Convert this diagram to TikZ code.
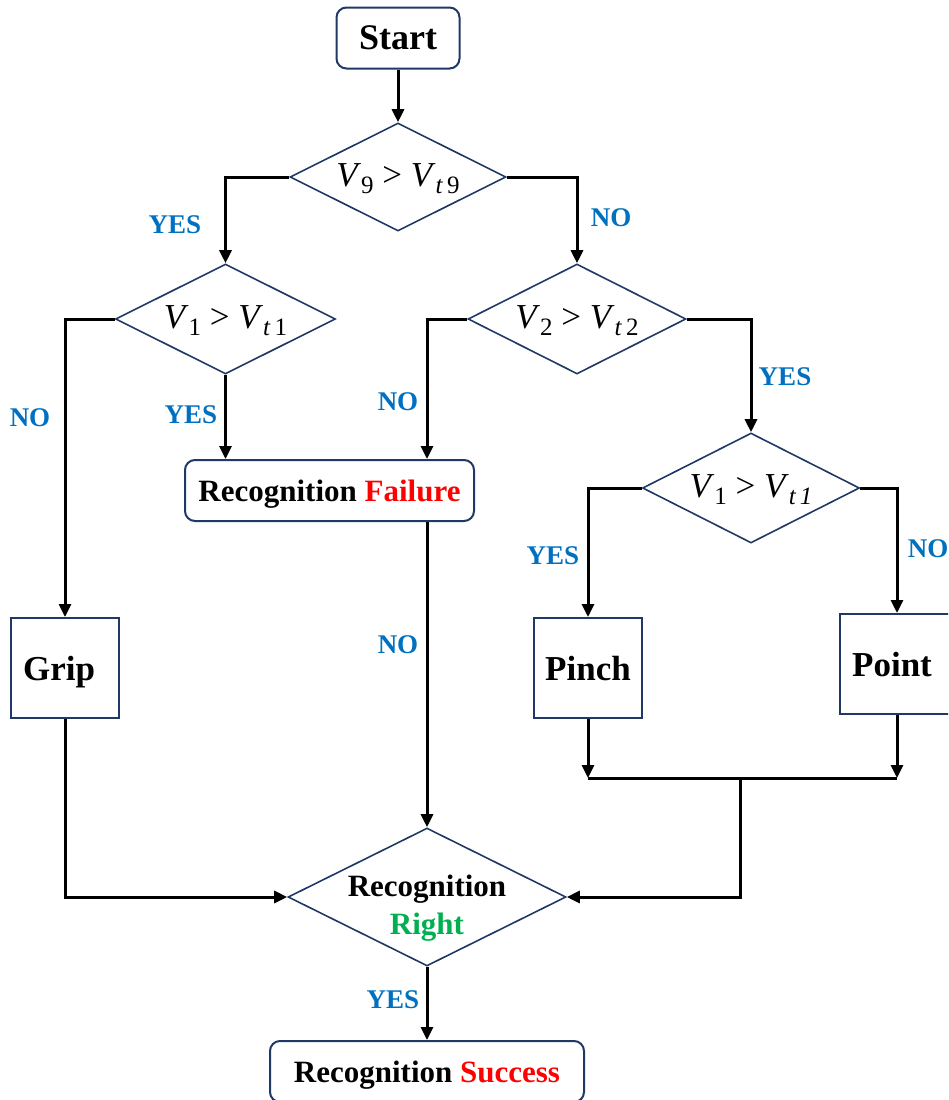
\documentclass[tikz,border=0pt]{standalone}
\usepackage{fontspec}
\setmainfont{Liberation Serif}
\usetikzlibrary{shapes.geometric,arrows.meta}
\definecolor{edge}{RGB}{31,56,100}
\definecolor{lblue}{RGB}{0,112,192}
\definecolor{okgreen}{RGB}{0,176,80}
\definecolor{bad}{RGB}{255,0,0}
\newcommand\fsz[2]{\fontsize{#1}{#2}\selectfont}
% italic V with a lowered upright index
\newcommand\Vs[1]{\textit{V}\raisebox{-7pt}{\fsz{25}{25}#1}}
\begin{document}
\begin{tikzpicture}[x=1pt,y=-1pt,
  conn/.style={line width=3pt,-{Triangle[length=13pt,width=12pt]}},
  plain/.style={line width=3pt},
  roundbox/.style={draw=edge,line width=2pt,rounded corners=10pt,
    minimum width=#1,minimum height=61pt,inner sep=0pt,font=\fsz{31}{37}\bfseries},
  handbox/.style={draw=edge,line width=2pt,minimum width=#1,minimum height=100pt,
    inner sep=0pt,font=\fsz{35}{40}\bfseries},
  decision/.style={diamond,draw=edge,line width=1.6pt,inner sep=0pt,aspect=2},
  cond/.style={font=\fsz{35}{40},inner sep=0pt},
  lbl/.style={text=lblue,font=\fsz{27}{30}\bfseries,inner sep=0pt}]
\useasboundingbox (0,0) rectangle (948,1100);
\clip (0,0) rectangle (948,1100);

% boxes
\node[roundbox=123pt,font=\fsz{36}{40}\bfseries,text depth=0pt] (start) at (398,38) {Start};
\node[roundbox=289pt,text depth=0pt] (fail) at (329.5,490.5) {Recognition \textcolor{bad}{Failure}};
\node[roundbox=314pt,text depth=0pt] (success) at (427,1071.5) {Recognition \textcolor{bad}{Success}};
\node[handbox=108pt,text depth=0pt] (grip) at (65,668) {\hspace*{-12pt}Grip};
\node[handbox=108pt,text depth=0pt] (pinch) at (588,668) {Pinch};
\node[handbox=114pt,text depth=0pt] (point) at (897,664) {Point\hspace*{10pt}};

% decisions
\node[decision,minimum width=216pt,minimum height=108pt] (d9) at (398,177) {};
\node[cond,yshift=-2pt] (d9t) at (d9) {\Vs{9} > \Vs{\textit{t}\,9}};
\node[decision,minimum width=220pt,minimum height=110pt] (d1) at (225.5,319) {};
\node[cond,yshift=-2pt] (d1t) at (d1) {\Vs{1} > \Vs{\textit{t}\,1}};
\node[decision,minimum width=218pt,minimum height=110pt] (d2) at (577,319) {};
\node[cond,yshift=-2pt] (d2t) at (d2) {\Vs{2} > \Vs{\textit{t}\,2}};
\node[decision,minimum width=217pt,minimum height=110pt] (d3) at (751,488) {};
\node[cond,yshift=-2pt] (d3t) at (d3) {\Vs{1} > \Vs{\textit{t\,1}}};
\node[decision,minimum width=278pt,minimum height=138pt] (dr) at (427,897) {};
\node[align=center,font=\fsz{31}{38}\bfseries,inner sep=0pt,yshift=-11pt] (drt) at (dr)
  {Recognition\\\textcolor{okgreen}{Right}};

% connectors
\draw[conn] (start) -- (d9);
\draw[conn] (d9.west) -| (d1.north);
\draw[conn] (d9.east) -| (d2.north);
\draw[conn] (d1.west) -| (grip.north);
\draw[conn] (d1.south) -- (d1.south |- fail.north);
\draw[conn] (d2.west) -| (fail.north -| dr.north);
\draw[conn] (d2.east) -| (d3.north);
\draw[conn] (fail.south -| dr.north) -- (dr.north);
\draw[conn] (d3.west) -| (pinch.north);
\draw[conn] (d3.east) -| (point.north);
\coordinate (merge) at (740,778);
\draw[conn] (pinch.south) -- (pinch.south |- merge);
\draw[conn] (point.south) -- (point.south |- merge);
\draw[plain] (pinch.south |- merge) -- (point.south |- merge);
\draw[conn] (merge) -- (merge |- dr.east) -- (dr.east);
\draw[conn] (grip.south) |- (dr.west);
\draw[conn] (dr.south) -- (success.north);

% branch labels
\node[lbl] (y1) at (175,225) {YES};
\node[lbl] (n1) at (611,218) {NO};
\node[lbl] (n2) at (30,418) {NO};
\node[lbl] (y2) at (191,415) {YES};
\node[lbl] (n3) at (398,402) {NO};
\node[lbl] (y3) at (785,377) {YES};
\node[lbl] (y4) at (553,556) {YES};
\node[lbl] (n4) at (928,549) {NO};
\node[lbl] (n5) at (398,645) {NO};
\node[lbl] (y5) at (393,1000) {YES};
\end{tikzpicture}
\end{document}
